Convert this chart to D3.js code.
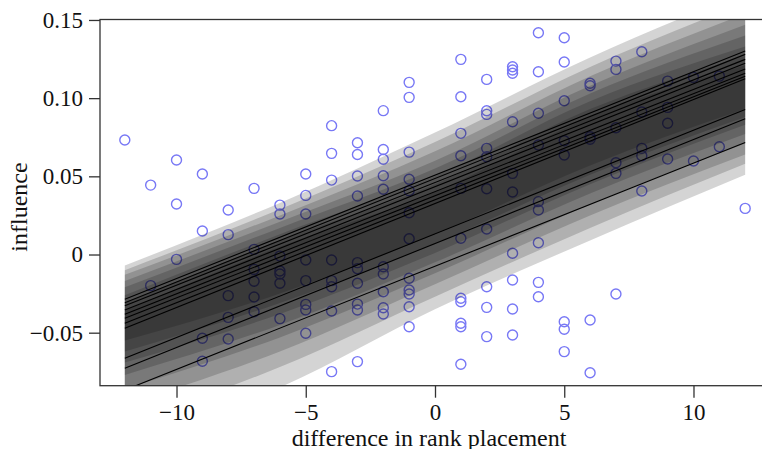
<!DOCTYPE html>
<html><head><meta charset="utf-8">
<script src="https://cdn.jsdelivr.net/npm/d3@7"></script>
<style>
body{margin:0;background:#fff}
svg{display:block}
text{font-family:"Liberation Serif","Times New Roman",serif;fill:#111}
</style>
</head><body>
<svg id="chart" width="762" height="449"></svg>
<script>
// ---- data ----
const rankDiffs = [-12,-11,-10,-9,-8,-7,-6,-5,-4,-3,-2,-1,1,2,3,4,5,6,7,8,9,10,11,12];
const influenceGroups = [
  [0.0732],
  [0.0444,-0.0199],
  [0.0604,0.0323,-0.0031],
  [0.0515,0.0150,-0.0536,-0.0683],
  [0.0285,0.0127,-0.0263,-0.0402,-0.0540],
  [0.0423,0.0033,-0.0095,-0.0171,-0.0272,-0.0366],
  [0.0316,0.0259,-0.0010,-0.0105,-0.0125,-0.0184,-0.0410],
  [0.0515,0.0378,0.0259,-0.0035,-0.0167,-0.0319,-0.0355,-0.0504],
  [0.0824,0.0647,0.0476,-0.0035,-0.0167,-0.0206,-0.0361,-0.0749],
  [0.0715,0.0640,0.0502,0.0374,-0.0052,-0.0091,-0.0184,-0.0317,-0.0355,-0.0685],
  [0.0920,0.0672,0.0609,0.0504,0.0417,-0.0078,-0.0125,-0.0238,-0.0340,-0.0380],
  [0.1101,0.1005,0.0655,0.0481,0.0408,0.0267,0.0101,-0.0152,-0.0227,-0.0253,-0.0334,-0.0462],
  [0.1248,0.1009,0.0775,0.0632,0.0423,0.0104,-0.0280,-0.0302,-0.0440,-0.0462,-0.0702],
  [0.1120,0.0919,0.0896,0.0679,0.0625,0.0421,0.0163,-0.0206,-0.0338,-0.0525],
  [0.1201,0.1180,0.1159,0.0849,0.0519,0.0400,0.0008,-0.0163,-0.0348,-0.0515],
  [0.1418,0.1169,0.0903,0.0700,0.0338,0.0285,0.0075,-0.0178,-0.0270],
  [0.1386,0.1231,0.0983,0.0728,0.0636,-0.0430,-0.0478,-0.0621],
  [0.1095,0.1079,0.0753,0.0737,-0.0419,-0.0756],
  [0.1237,0.1184,0.0811,0.0587,0.0519,-0.0253],
  [0.1297,0.0911,0.0679,0.0632,0.0406],
  [0.1109,0.0941,0.0839,0.0611],
  [0.1133,0.0598],
  [0.1141,0.0689],
  [0.0295]
];

// regression lines: value at x = -12 and at x = 12
const lineXs = [-12, 12];
const lineStart = [-0.0286,-0.0308,-0.0327,-0.0355,-0.0382,-0.0408,-0.0440,-0.0472,-0.0664,-0.0728,-0.0867];
const lineEnd   = [ 0.1301, 0.1280, 0.1248, 0.1223, 0.1186, 0.1159, 0.1140, 0.1124, 0.0928, 0.0868, 0.0717];

// shaded interval bands (outer to inner), at bandXs
const bandXs = [-12, -6, 0, 6, 12];
const bandUpper = [
  [-0.007, 0.033, 0.078, 0.126, 0.168],
  [-0.010, 0.029, 0.072, 0.120, 0.161],
  [-0.013, 0.025, 0.066, 0.114, 0.154],
  [-0.017, 0.021, 0.060, 0.108, 0.147],
  [-0.021, 0.017, 0.055, 0.103, 0.140],
  [-0.026, 0.013, 0.050, 0.098, 0.133],
  [-0.031, 0.009, 0.045, 0.093, 0.127],
  [-0.036, 0.005, 0.040, 0.088, 0.121]
];
const bandLower = [
  [-0.122,-0.085,-0.035, 0.009, 0.051],
  [-0.108,-0.072,-0.027, 0.017, 0.058],
  [-0.096,-0.062,-0.019, 0.025, 0.064],
  [-0.086,-0.053,-0.012, 0.032, 0.071],
  [-0.077,-0.045,-0.005, 0.039, 0.077],
  [-0.069,-0.038, 0.001, 0.045, 0.083],
  [-0.062,-0.031, 0.007, 0.051, 0.088],
  [-0.055,-0.025, 0.013, 0.057, 0.093]
];

const xTickValues = [-10, -5, 0, 5, 10];
const xTickLabels = ["\u221210", "\u22125", "0", "5", "10"];
const yTickValues = [-0.05, 0, 0.05, 0.10, 0.15];
const yTickLabels = ["\u22120.05", "0", "0.05", "0.10", "0.15"];
const xTitle = "difference in rank placement";
const yTitle = "influence";

// ---- drawing ----
const svg = d3.select("#chart");
const pL = 100, pR = 770, pT = 19.5, pB = 385.7;
const x = d3.scaleLinear().domain([-12.96, 12.96]).range([pL, pR]);
const y = d3.scaleLinear().domain([-0.0839, 0.1503]).range([pB, pT]);

svg.append("defs").append("clipPath").attr("id", "plotclip")
  .append("rect").attr("x", pL).attr("y", pT)
  .attr("width", pR - pL).attr("height", pB - pT);

const plot = svg.append("g").attr("clip-path", "url(#plotclip)");

// points
const pts = [];
rankDiffs.forEach((d, i) => influenceGroups[i].forEach(v => pts.push([d, v])));
plot.append("g").selectAll("circle").data(pts).join("circle")
  .attr("cx", d => x(d[0])).attr("cy", d => y(d[1])).attr("r", 5)
  .attr("fill", "none").attr("stroke", "#7878f5").attr("stroke-width", 1.4);

// bands
const area = d3.area()
  .x(d => x(d.x)).y0(d => y(d.lo)).y1(d => y(d.hi))
  .curve(d3.curveMonotoneX);
bandUpper.forEach((up, k) => {
  const rows = bandXs.map((bx, j) => ({x: bx, lo: bandLower[k][j], hi: up[j]}));
  plot.append("path").datum(rows).attr("d", area)
    .attr("fill", "#000").attr("fill-opacity", 0.17).attr("stroke", "none");
});

// lines
const line = d3.line().x(d => x(d[0])).y(d => y(d[1]));
lineStart.forEach((s, i) => {
  plot.append("path").datum([[lineXs[0], s], [lineXs[1], lineEnd[i]]])
    .attr("d", line).attr("fill", "none").attr("stroke", "#000").attr("stroke-width", 1.1);
});

// frame
svg.append("rect").attr("x", pL).attr("y", pT)
  .attr("width", pR - pL).attr("height", pB - pT)
  .attr("fill", "none").attr("stroke", "#333").attr("stroke-width", 1.3);

// axes
const xAxis = d3.axisBottom(x).tickValues(xTickValues)
  .tickFormat((d, i) => xTickLabels[i]).tickSize(12).tickPadding(6).tickSizeOuter(0);
const gx = svg.append("g").attr("transform", `translate(0,${pB})`).call(xAxis);
const yAxis = d3.axisLeft(y).tickValues(yTickValues)
  .tickFormat((d, i) => yTickLabels[i]).tickSize(11).tickPadding(6).tickSizeOuter(0);
const gy = svg.append("g").attr("transform", `translate(${pL},0)`).call(yAxis);
[gx, gy].forEach(g => {
  g.select(".domain").remove();
  g.selectAll(".tick line").attr("stroke", "#333").attr("stroke-width", 1.3);
  g.selectAll(".tick text").attr("font-size", 23)
    .attr("font-family", "'Liberation Serif','Times New Roman',serif").attr("fill", "#111");
});

svg.append("text").attr("x", 429).attr("y", 446).attr("text-anchor", "middle")
  .attr("font-size", 24).text(xTitle);
svg.append("text").attr("transform", "translate(27,207) rotate(-90)")
  .attr("text-anchor", "middle").attr("font-size", 24).text(yTitle);
</script>
</body></html>
